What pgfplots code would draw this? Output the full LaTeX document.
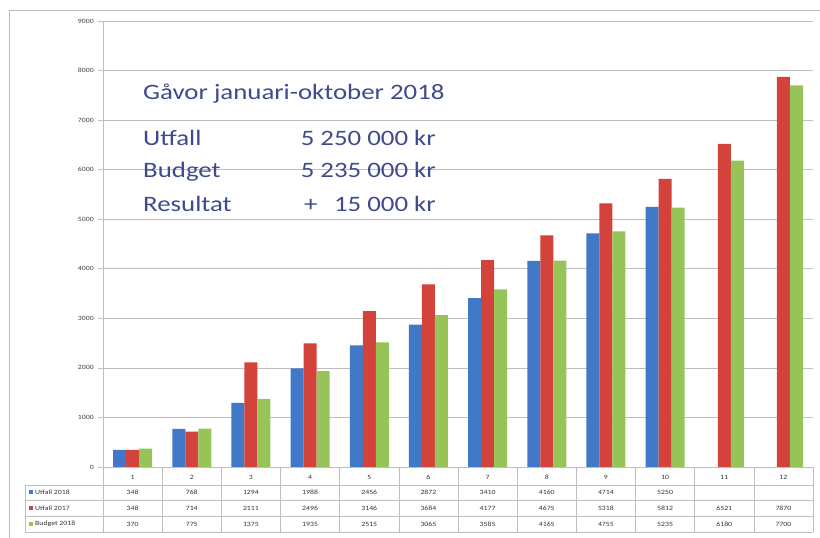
\documentclass[border=0pt]{standalone}
\usepackage{pgfplots}
\pgfplotsset{compat=1.18}
\usepackage{pgfplotstable}
\usepackage{fontspec}
\setmainfont{Carlito}
\definecolor{cblue}{RGB}{65,120,200}
\definecolor{cred}{RGB}{212,66,60}
\definecolor{cgreen}{RGB}{150,196,88}
\definecolor{ctext}{RGB}{62,74,140}
\definecolor{cgrid}{RGB}{190,190,190}
\pgfplotstableread{
x u18
1 348
2 768
3 1294
4 1988
5 2456
6 2872
7 3410
8 4160
9 4714
10 5250
}\utfallA
\pgfplotstableread{
x u17
1 348
2 714
3 2111
4 2496
5 3146
6 3684
7 4177
8 4675
9 5318
10 5812
11 6521
12 7870
}\utfallB
\pgfplotstableread{
x b18
1 370
2 775
3 1375
4 1935
5 2515
6 3065
7 3585
8 4165
9 4755
10 5235
11 6180
12 7700
}\budget
\begin{document}
\begin{tikzpicture}[x=1pt,y=1pt]
\useasboundingbox (0,0) rectangle (820,538);
% outer frame
\draw[cgrid, line width=0.8pt] (9,0) -- (9,528) -- (820,528);
\begin{axis}[
  at={(103pt,71pt)}, anchor=south west, scale only axis,
  width=710pt, height=446pt,
  xmin=0.5, xmax=12.5, ymin=0, ymax=9000,
  ybar=0pt, bar width=13pt,
  axis x line=bottom, axis y line=left,
  axis line style={cgrid, line width=0.8pt, -},
  xtick=\empty,
  ytick={0,1000,...,9000},
  ymajorgrids, grid style={cgrid, line width=0.6pt},
  tick align=outside, major tick length=5pt,
  tick style={cgrid, line width=0.6pt},
  yticklabel style={font=\fontsize{6.5}{7}\selectfont, text=black!75, xscale=1.2},
  /pgf/number format/assume math mode=true,
  /pgf/number format/1000 sep={},
  scaled y ticks=false,
  clip=false,
]
\addplot[draw=none, fill=cblue] table[x=x, y=u18] {\utfallA};
\addplot[draw=none, fill=cred] table[x=x, y=u17] {\utfallB};
\addplot[draw=none, fill=cgreen] table[x=x, y=b18] {\budget};
\end{axis}
% text block
\begin{scope}[every node/.style={text=ctext, font=\fontsize{22}{24}\selectfont, inner sep=0pt, xscale=1.22}]
\node[anchor=base west] at (143,438) {Gåvor januari-oktober 2018};
\node[anchor=base west] at (143,392) {Utfall};
\node[anchor=base east] at (436,392) {5 250 000 kr};
\node[anchor=base west] at (143,360) {Budget};
\node[anchor=base east] at (436,360) {5 235 000 kr};
\node[anchor=base west] at (143,326) {Resultat};
\node[anchor=base west] at (304,326) {+};
\node[anchor=base east] at (436,326) {15 000 kr};
\end{scope}
% data table
\begin{scope}[cgrid, line width=0.6pt]
\foreach \k in {0,...,12}{
  \draw ({103+\k*59.1667},71) -- ({103+\k*59.1667},6);
}
\draw (25,53) -- (813,53);
\draw (25,38) -- (813,38);
\draw (25,22) -- (813,22);
\draw (25,6) -- (813,6);
\draw (25,53) -- (25,6);
\end{scope}
\begin{scope}[every node/.style={font=\fontsize{6.5}{7}\selectfont, text=black!80, inner sep=0pt, xscale=1.2}]
\foreach \k/\a/\b/\c in {1/348/348/370,2/768/714/775,3/1294/2111/1375,4/1988/2496/1935,5/2456/3146/2515,6/2872/3684/3065,7/3410/4177/3585,8/4160/4675/4165,9/4714/5318/4755,10/5250/5812/5235,11//6521/6180,12//7870/7700}{
  \node at ({103+(\k-0.5)*59.1667},61) {\k};
  \node at ({103+(\k-0.5)*59.1667},45.5) {\a};
  \node at ({103+(\k-0.5)*59.1667},30) {\b};
  \node at ({103+(\k-0.5)*59.1667},14) {\c};
}
\fill[cblue] (29,43.5) rectangle (33,47.5);
\node[anchor=west] at (35,45.5) {Utfall 2018};
\fill[cred] (29,28) rectangle (33,32);
\node[anchor=west] at (35,30) {Utfall 2017};
\fill[cgreen] (29,12) rectangle (33,16);
\node[anchor=west] at (35,14) {Budget 2018};
\end{scope}
\end{tikzpicture}
\end{document}
